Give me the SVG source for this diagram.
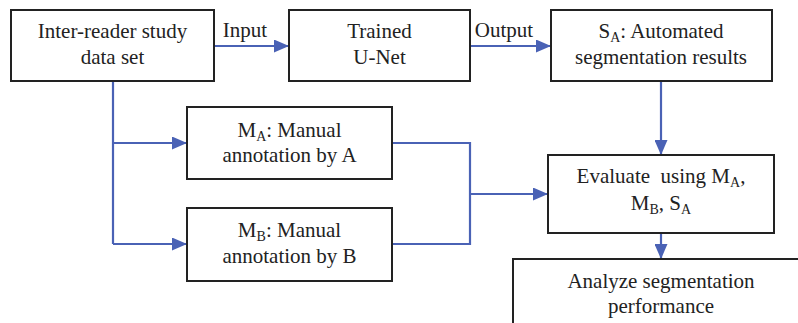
<svg xmlns="http://www.w3.org/2000/svg" width="798" height="323" viewBox="0 0 798 323">
<defs>
<style>
.box{fill:#fff;stroke:#222;stroke-width:2}
.t{font-family:'Liberation Serif','DejaVu Serif',serif;font-size:21px;fill:#222;text-anchor:middle}
.s{font-size:14px}
.c{fill:none;stroke:#4a62b5;stroke-width:2.2}
</style>
<marker id="ah" markerWidth="16" markerHeight="13" refX="15" refY="6.5" orient="auto" markerUnits="userSpaceOnUse">
<path d="M0,0 L15,6.5 L0,13 Z" fill="#4a62b5"/>
</marker>
</defs>
<rect width="798" height="323" fill="#fff"/>
<g id="connectors">
<line class="c" x1="214" y1="46" x2="289" y2="46" marker-end="url(#ah)"/>
<line class="c" x1="470" y1="46" x2="551" y2="46" marker-end="url(#ah)"/>
<polyline class="c" points="113,81 113,244"/>
<line class="c" x1="113" y1="143" x2="187" y2="143" marker-end="url(#ah)"/>
<line class="c" x1="113" y1="244" x2="187" y2="244" marker-end="url(#ah)"/>
<polyline class="c" points="392,143 470,143 470,244 392,244"/>
<line class="c" x1="470" y1="194" x2="548" y2="194" marker-end="url(#ah)"/>
<line class="c" x1="661" y1="81" x2="661" y2="155" marker-end="url(#ah)"/>
<line class="c" x1="661" y1="233" x2="661" y2="259" marker-end="url(#ah)"/>
<text class="t" font-family="Liberation Serif, serif" x="245" y="37">Input</text>
<text class="t" font-family="Liberation Serif, serif" x="504" y="37">Output</text>
</g>
<g font-family="Liberation Serif, serif">
<g id="dataset">
<rect class="box" x="11" y="10" width="203" height="71"/>
<text class="t" x="112.5" y="38">Inter-reader study</text>
<text class="t" x="112.5" y="64">data set</text>
</g>
<g id="unet">
<rect class="box" x="289" y="10" width="181" height="71"/>
<text class="t" x="379.5" y="38">Trained</text>
<text class="t" x="379.5" y="64">U-Net</text>
</g>
<g id="sa">
<rect class="box" x="551" y="10" width="221" height="71"/>
<text class="t" x="661" y="38">S<tspan class="s" dy="4">A</tspan><tspan dy="-4">: Automated</tspan></text>
<text class="t" x="661" y="64">segmentation results</text>
</g>
<g id="ma">
<rect class="box" x="187" y="107" width="205" height="72"/>
<text class="t" x="289.5" y="137">M<tspan class="s" dy="4">A</tspan><tspan dy="-4">: Manual</tspan></text>
<text class="t" x="289.5" y="162">annotation by A</text>
</g>
<g id="mb">
<rect class="box" x="187" y="208" width="205" height="73"/>
<text class="t" x="289.5" y="237">M<tspan class="s" dy="4">B</tspan><tspan dy="-4">: Manual</tspan></text>
<text class="t" x="289.5" y="263">annotation by B</text>
</g>
<g id="evaluate">
<rect class="box" x="548" y="155" width="226" height="78"/>
<text class="t" x="661" y="183" xml:space="preserve">Evaluate  using M<tspan class="s" dy="4">A</tspan><tspan dy="-4">,</tspan></text>
<text class="t" x="661" y="210">M<tspan class="s" dy="4">B</tspan><tspan dy="-4">, S</tspan><tspan class="s" dy="4">A</tspan></text>
</g>
<g id="analyze">
<rect class="box" x="513" y="259" width="320" height="100"/>
<text class="t" x="661" y="288">Analyze segmentation</text>
<text class="t" x="661" y="313">performance</text>
</g>
</g>
</svg>
